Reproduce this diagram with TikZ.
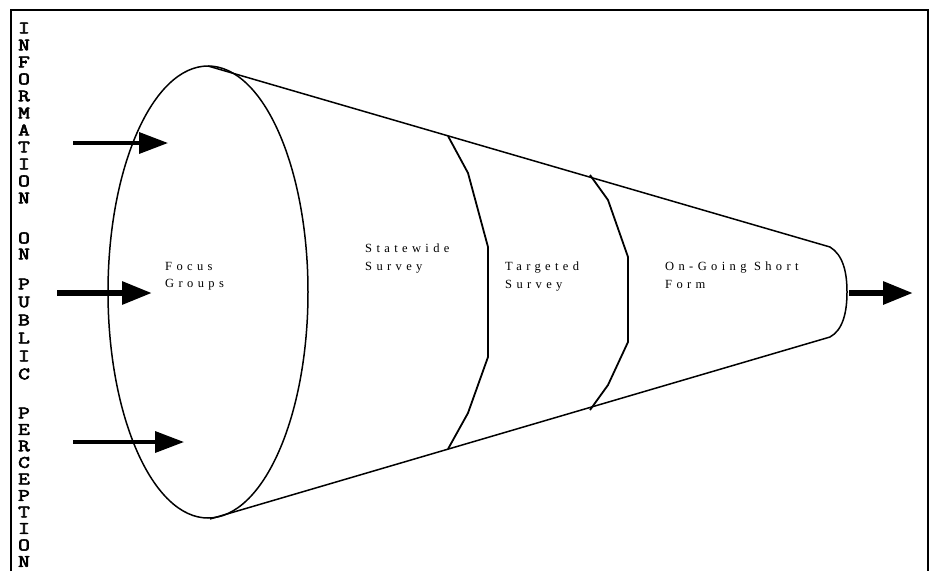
\documentclass[tikz,border=0pt]{standalone}
\usepackage{fontspec}
\usetikzlibrary{arrows.meta}
\newfontfamily\labfont[LetterSpace=35]{Liberation Serif}
\newfontfamily\vfont[FakeBold=3]{Latin Modern Mono}
\newcommand{\vletter}[1]{\scalebox{1.3}[1]{#1}}
\begin{document}
\begin{tikzpicture}[x=1pt,y=-1pt,
  frameline/.style={line width=2pt},
  cone/.style={line width=1.5pt},
  sepline/.style={line width=1.8pt, line join=round},
  inarrow/.style={line width=3.5pt, -{Triangle[length=29pt,width=21pt]}},
  bigarrow/.style={line width=6pt, -{Triangle[length=30pt,width=22pt]}},
  lab/.style={font=\labfont\fontsize{12.5}{15}\selectfont, inner sep=0pt, anchor=base west},
  vlet/.style={font=\vfont\fontsize{17.5}{17.5}\selectfont, inner sep=0pt}]
\useasboundingbox (0,0) rectangle (929,571);
% frame
\coordinate (fbl) at (11,571);
\coordinate (ftl) at (11,10);
\coordinate (ftr) at (928,10);
\coordinate (fbr) at (928,571);
\draw[frameline] (fbl) -- (ftl) -- (ftr) -- (fbr);
% vertical text
\foreach \ch/\yy [count=\i] in {I/28,N/45,F/62,O/79,R/96,M/113,A/130,T/147,I/164,O/181,N/198,
  O/238,N/254,
  P/284,U/302,B/320,L/338,I/356,C/374,
  P/413,E/429.5,R/446,C/462.5,E/479,P/495.5,T/512,I/528.5,O/545,N/561.5}
  \node[vlet] (v\i) at (24,\yy) {\vletter{\ch}};
% funnel
\coordinate (fc) at (208,292);
\draw[cone] (fc) ellipse [x radius=100pt, y radius=226pt];
\coordinate (tl) at (208,66);
\coordinate (tr) at (830,247);
\coordinate (bl) at (210,519);
\coordinate (br) at (830,337);
\coordinate (cap) at (847,292);
\draw[cone] (tl) -- (tr) .. controls (843,255) and (847,272) .. (cap)
  .. controls (847,312) and (843,330) .. (br) -- (bl);
% separators
\coordinate (s1a) at (448,136);
\coordinate (s1b) at (468,173);
\coordinate (s1c) at (488,247);
\coordinate (s1d) at (488,357);
\coordinate (s1e) at (468,413);
\coordinate (s1f) at (448,449);
\draw[sepline] (s1a) -- (s1b) -- (s1c) -- (s1d) -- (s1e) -- (s1f);
\coordinate (s2a) at (590,175);
\coordinate (s2b) at (608,200);
\coordinate (s2c) at (628,257);
\coordinate (s2d) at (628,342);
\coordinate (s2e) at (608,385);
\coordinate (s2f) at (590,410);
\draw[sepline] (s2a) -- (s2b) -- (s2c) -- (s2d) -- (s2e) -- (s2f);
% arrows
\coordinate (a1s) at (73,143);  \coordinate (a1e) at (168,143);
\coordinate (a2s) at (57,293);  \coordinate (a2e) at (152,293);
\coordinate (a3s) at (73,442);  \coordinate (a3e) at (184,442);
\coordinate (a4s) at (849,293); \coordinate (a4e) at (913,293);
\draw[inarrow] (a1s) -- (a1e);
\draw[bigarrow] (a2s) -- (a2e);
\draw[inarrow] (a3s) -- (a3e);
\draw[bigarrow] (a4s) -- (a4e);
% labels
\node[lab] (fg1) at (165,270) {Focus};
\node[lab] (fg2) at (165,287) {Groups};
\node[lab] (sw1) at (365,252) {Statewide};
\node[lab] (sw2) at (365,270) {Survey};
\node[lab] (ts1) at (505,270) {Targeted};
\node[lab] (ts2) at (505,288) {Survey};
\node[lab] (og1) at (665,270) {On-Going Short};
\node[lab] (og2) at (665,288) {Form};
\end{tikzpicture}
\end{document}
